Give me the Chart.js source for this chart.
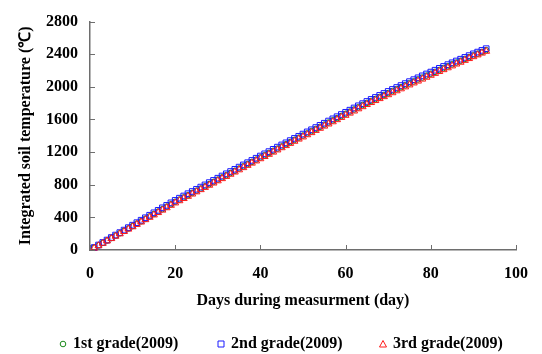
<!DOCTYPE html>
<html>
<head>
<meta charset="utf-8">
<script src="https://cdn.jsdelivr.net/npm/chart.js@4.4.0/dist/chart.umd.min.js"></script>
<style>
  html, body { margin: 0; padding: 0; background: #fff; }
  #soil-chart { display: block; }
</style>
</head>
<body>
<canvas id="soil-chart" width="542" height="354"></canvas>
<script>
// days since start of measurement
const days = [
  1, 2, 3, 4, 5, 6, 7, 8, 9, 10, 11, 12, 13, 14, 15, 16, 17, 18, 19, 20,
  21, 22, 23, 24, 25, 26, 27, 28, 29, 30, 31, 32, 33, 34, 35, 36, 37, 38, 39, 40,
  41, 42, 43, 44, 45, 46, 47, 48, 49, 50, 51, 52, 53, 54, 55, 56, 57, 58, 59, 60,
  61, 62, 63, 64, 65, 66, 67, 68, 69, 70, 71, 72, 73, 74, 75, 76, 77, 78, 79, 80,
  81, 82, 83, 84, 85, 86, 87, 88, 89, 90, 91, 92, 93
];

// integrated soil temperature
const grade1 = [
  28, 57, 87, 116, 146, 175, 205, 234, 264, 293, 323, 352, 382, 412, 441, 471, 501, 531, 561, 591,
  618, 645, 672, 700, 727, 754, 781, 808, 835, 863, 890, 917, 944, 971, 999, 1026, 1053, 1080, 1108, 1135,
  1162, 1189, 1216, 1243, 1270, 1297, 1323, 1350, 1377, 1403, 1430, 1457, 1483, 1510, 1537, 1563, 1590, 1617, 1643, 1670,
  1697, 1723, 1750, 1777, 1803, 1827, 1851, 1876, 1900, 1924, 1948, 1972, 1996, 2020, 2044, 2067, 2091, 2114, 2138, 2161,
  2184, 2207, 2230, 2253, 2276, 2298, 2320, 2342, 2364, 2386, 2407, 2428, 2450
];
const grade2 = [
  31, 61, 92, 122, 153, 183, 213, 244, 274, 304, 335, 365, 395, 426, 456, 486, 517, 547, 578, 608,
  635, 662, 690, 717, 744, 771, 798, 826, 853, 880, 907, 934, 962, 989, 1016, 1043, 1070, 1098, 1125, 1152,
  1179, 1206, 1234, 1261, 1288, 1314, 1341, 1368, 1394, 1421, 1448, 1474, 1501, 1528, 1554, 1581, 1608, 1634, 1661, 1688,
  1714, 1741, 1768, 1794, 1821, 1846, 1870, 1895, 1919, 1944, 1968, 1992, 2016, 2040, 2064, 2088, 2111, 2135, 2158, 2181,
  2204, 2227, 2250, 2272, 2295, 2317, 2339, 2361, 2383, 2405, 2426, 2447, 2468
];
const grade3 = [
  24, 53, 82, 111, 140, 169, 198, 227, 256, 285, 314, 343, 372, 401, 430, 459, 489, 518, 548, 577,
  604, 631, 658, 686, 713, 740, 767, 794, 821, 848, 875, 902, 929, 956, 983, 1010, 1038, 1065, 1092, 1119,
  1146, 1173, 1200, 1227, 1254, 1280, 1307, 1333, 1360, 1386, 1413, 1439, 1466, 1492, 1519, 1545, 1572, 1598, 1625, 1651,
  1678, 1704, 1731, 1757, 1784, 1808, 1832, 1856, 1880, 1904, 1928, 1952, 1976, 2000, 2024, 2048, 2071, 2095, 2118, 2142,
  2165, 2188, 2211, 2234, 2257, 2280, 2302, 2325, 2347, 2370, 2392, 2414, 2436
];

const seriesNames = ['1st grade(2009)', '2nd grade(2009)', '3rd grade(2009)'];

document.addEventListener('DOMContentLoaded', function() {
    const canvas = document.getElementById('soil-chart');
    const ctx = canvas.getContext('2d');

    const fontFamily = '"Liberation Serif", "Times New Roman", serif';
    const axisColor = '#6e6e6e';
    const boldFont = { family: fontFamily, size: 16, weight: 'bold' };

    const toPoints = values => values.map((v, i) => ({ x: days[i], y: v }));

    // short tick marks pointing into the plot
    const innerTicks = {
        id: 'innerTicks',
        afterDraw(chart) {
            const { ctx, chartArea, scales: { x, y } } = chart;
            ctx.save();
            ctx.strokeStyle = axisColor;
            ctx.lineWidth = 1;
            ctx.beginPath();
            x.ticks.forEach((t, i) => {
                const px = Math.round(x.getPixelForTick(i)) + 0.5;
                ctx.moveTo(px, chartArea.bottom);
                ctx.lineTo(px, chartArea.bottom - 5);
            });
            y.ticks.forEach((t, i) => {
                const py = Math.round(y.getPixelForTick(i)) + 0.5;
                ctx.moveTo(chartArea.left, py);
                ctx.lineTo(chartArea.left + 5, py);
            });
            ctx.stroke();
            ctx.restore();
        }
    };

    // legend row along the bottom
    const bottomLegend = {
        id: 'bottomLegend',
        afterDraw(chart) {
            const ctx = chart.ctx;
            const slots = [63, 221, 383];
            const yMid = 344;
            ctx.save();
            ctx.font = 'bold 16px ' + fontFamily;
            ctx.textBaseline = 'middle';
            ctx.lineWidth = 1;
            chart.data.datasets.forEach((ds, i) => {
                const cx = slots[i];
                ctx.strokeStyle = ds.borderColor;
                ctx.beginPath();
                if (ds.pointStyle === 'circle') {
                    ctx.arc(cx, yMid, 2.8, 0, Math.PI * 2);
                } else if (ds.pointStyle === 'rect') {
                    ctx.rect(cx - 3, yMid - 3, 6, 6);
                } else {
                    ctx.moveTo(cx, yMid - 3.5);
                    ctx.lineTo(cx + 3.5, yMid + 3);
                    ctx.lineTo(cx - 3.5, yMid + 3);
                    ctx.closePath();
                }
                ctx.stroke();
                ctx.fillStyle = '#000';
                ctx.fillText(ds.label, cx + 10, yMid);
            });
            ctx.restore();
        }
    };

    new Chart(ctx, {
        type: 'scatter',
        data: {
            datasets: [
                {
                    label: seriesNames[0],
                    data: toPoints(grade1),
                    borderColor: '#1a8a1a',
                    backgroundColor: 'rgba(0,0,0,0)',
                    pointStyle: 'circle',
                    pointRadius: 2.8,
                    borderWidth: 1,
                    order: 3
                },
                {
                    label: seriesNames[1],
                    data: toPoints(grade2),
                    borderColor: '#1a1aff',
                    backgroundColor: 'rgba(0,0,0,0)',
                    pointStyle: 'rect',
                    pointRadius: 4,
                    borderWidth: 1,
                    order: 2
                },
                {
                    label: seriesNames[2],
                    data: toPoints(grade3),
                    borderColor: '#ff1a1a',
                    backgroundColor: 'rgba(0,0,0,0)',
                    pointStyle: 'triangle',
                    pointRadius: 4,
                    borderWidth: 1,
                    order: 1
                }
            ]
        },
        options: {
            responsive: false,
            animation: false,
            clip: false,
            layout: {
                padding: { top: 14, right: 22, bottom: 42, left: 12 }
            },
            plugins: {
                legend: { display: false },
                tooltip: { enabled: false }
            },
            scales: {
                x: {
                    type: 'linear',
                    min: 0,
                    max: 100,
                    afterFit: scale => { scale.height = 62; },
                    grid: { display: false, drawTicks: false },
                    border: { display: true, color: axisColor, width: 1.5 },
                    ticks: {
                        stepSize: 20,
                        padding: 14,
                        color: '#000',
                        font: boldFont,
                        callback: v => String(v)
                    },
                    title: {
                        display: true,
                        text: 'Days during measurment (day)',
                        color: '#000',
                        padding: { top: 0, bottom: 2 },
                        font: boldFont
                    }
                },
                y: {
                    min: 0,
                    max: 2800,
                    afterFit: scale => { scale.width = 78; },
                    grid: { display: false, drawTicks: false },
                    border: { display: true, color: axisColor, width: 1.5 },
                    ticks: {
                        stepSize: 400,
                        padding: 12,
                        color: '#000',
                        font: boldFont,
                        callback: v => String(v)
                    },
                    title: {
                        display: true,
                        text: 'Integrated soil temperature (℃)',
                        color: '#000',
                        padding: { top: 4, bottom: 0 },
                        font: boldFont
                    }
                }
            }
        },
        plugins: [innerTicks, bottomLegend]
    });
});
</script>
</body>
</html>
